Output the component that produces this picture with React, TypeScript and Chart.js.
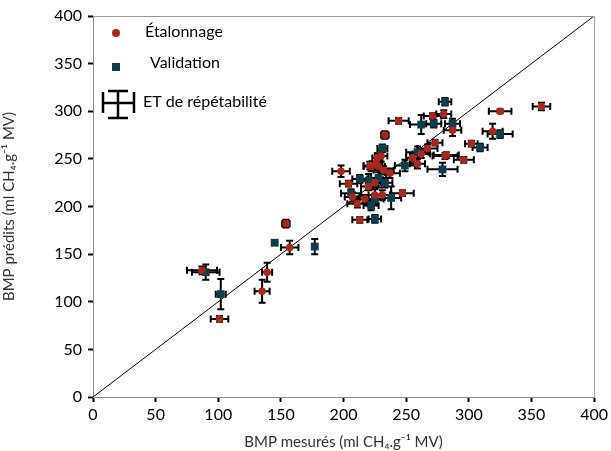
import React, { useEffect, useRef } from "react";
import { Chart, registerables } from "chart.js";

Chart.register(...registerables);

// Étalonnage (calibration)
const calX = [358, 325, 319, 302, 282, 296, 280, 271, 287, 244, 233, 273, 267, 255, 259, 262, 281, 237, 230, 227, 222, 228, 232, 198, 204, 220, 225, 207, 217, 225, 231, 247, 211, 213, 226, 221, 154, 157, 139, 135, 87, 101];
const calY = [305, 300, 279, 266, 254, 249, 297, 295, 280, 290, 275, 267, 261, 251, 245, 255, 253, 235, 253, 251, 242, 242, 238, 237, 224, 221, 225, 210, 208, 212, 212, 214, 203, 186, 245, 243, 182, 157, 131, 111, 133, 82];
const calXErr = [7, 9, 8, 5, 10, 8, 6, 7, 7, 8, 3, 6, 8, 5, 6, 7, 10, 8, 5, 4, 6, 5, 8, 7, 7, 6, 5, 6, 6, 5, 6, 9, 8, 6, 5, 5, 3, 7, 4, 6, 12, 7];
const calYErr = [4, 2, 8, 3, 3, 3, 4, 3, 6, 3, 4, 3, 4, 4, 5, 4, 3, 5, 6, 5, 5, 6, 4, 6, 3, 4, 5, 5, 4, 6, 5, 3, 4, 3, 6, 4, 4, 7, 10, 12, 4, 3];

// Validation
const valX = [281, 272, 262, 287, 325, 309, 279, 249, 259, 231, 228, 213, 220, 233, 206, 225, 238, 222, 225, 145, 177, 90, 102];
const valY = [310, 287, 286, 287, 276, 262, 239, 243, 257, 261, 230, 229, 227, 225, 214, 208, 209, 201, 187, 162, 158, 131, 108];
const valXErr = [5, 6, 9, 6, 10, 6, 12, 8, 9, 4, 6, 6, 7, 6, 8, 7, 8, 6, 5, 2, 2, 11, 4];
const valYErr = [4, 4, 10, 5, 4, 4, 7, 6, 6, 4, 10, 4, 7, 5, 4, 5, 12, 5, 4, 2, 8, 8, 16];

const axisTicks = [0, 50, 100, 150, 200, 250, 300, 350, 400];

const RED = "#a8281e";
const BLUE = "#0f3d4c";
const FONT = "Lato";

function build(xs: number[], ys: number[], xe: number[], ye: number[]) {
  return xs.map((x, i) => ({ x, y: ys[i], xe: xe[i], ye: ye[i] }));
}

const errorBarPlugin = {
  id: "errorBars",
  beforeDatasetsDraw(chart: any) {
    const { ctx, scales } = chart;
    const sx = scales.x;
    const sy = scales.y;
    ctx.save();
    ctx.strokeStyle = "#000";
    ctx.lineWidth = 2;
    [0, 1].forEach((di) => {
      const ds = chart.data.datasets[di];
      ds.data.forEach((d: any) => {
        const cx = sx.getPixelForValue(d.x);
        const cy = sy.getPixelForValue(d.y);
        const x1 = sx.getPixelForValue(d.x - d.xe);
        const x2 = sx.getPixelForValue(d.x + d.xe);
        const y1 = sy.getPixelForValue(d.y - d.ye);
        const y2 = sy.getPixelForValue(d.y + d.ye);
        const cap = 3.5;
        ctx.beginPath();
        ctx.moveTo(x1, cy); ctx.lineTo(x2, cy);
        ctx.moveTo(x1, cy - cap); ctx.lineTo(x1, cy + cap);
        ctx.moveTo(x2, cy - cap); ctx.lineTo(x2, cy + cap);
        ctx.moveTo(cx, y1); ctx.lineTo(cx, y2);
        ctx.moveTo(cx - cap, y1); ctx.lineTo(cx + cap, y1);
        ctx.moveTo(cx - cap, y2); ctx.lineTo(cx + cap, y2);
        ctx.stroke();
      });
    });
    ctx.restore();
  },
  afterDraw(chart: any) {
    const { ctx, chartArea } = chart;
    ctx.save();
    // frame top and right
    ctx.strokeStyle = "#9a9a9a";
    ctx.lineWidth = 1;
    ctx.beginPath();
    ctx.moveTo(chartArea.left, chartArea.top + 0.5);
    ctx.lineTo(chartArea.right + 0.5, chartArea.top + 0.5);
    ctx.lineTo(chartArea.right + 0.5, chartArea.bottom);
    ctx.stroke();

    // legend
    ctx.fillStyle = RED;
    ctx.beginPath();
    ctx.arc(116, 33, 4, 0, Math.PI * 2);
    ctx.fill();
    ctx.fillStyle = BLUE;
    ctx.fillRect(112, 63, 8, 8);

    ctx.strokeStyle = "#000";
    ctx.lineWidth = 2.5;
    ctx.beginPath();
    ctx.moveTo(103, 103); ctx.lineTo(134, 103);
    ctx.moveTo(103, 92); ctx.lineTo(103, 113);
    ctx.moveTo(134, 92); ctx.lineTo(134, 113);
    ctx.moveTo(118, 91); ctx.lineTo(118, 118);
    ctx.moveTo(108, 91); ctx.lineTo(128, 91);
    ctx.moveTo(108, 118); ctx.lineTo(128, 118);
    ctx.stroke();

    ctx.fillStyle = "#000";
    ctx.font = `16px ${FONT}`;
    ctx.textBaseline = "middle";
    ctx.textAlign = "left";
    ctx.fillText("Étalonnage", 145, 32);
    ctx.fillText("Validation", 150, 63);
    ctx.fillText("ET de répétabilité", 143, 102);
    ctx.restore();
  },
};

export default function App() {
  const ref = useRef<HTMLCanvasElement | null>(null);
  useEffect(() => {
    if (!ref.current) return;
    const chart = new Chart(ref.current, {
      type: "scatter",
      data: {
        datasets: [
          {
            label: "Étalonnage",
            data: build(calX, calY, calXErr, calYErr),
            backgroundColor: RED,
            borderColor: RED,
            pointStyle: "circle",
            pointRadius: 3.8,
            borderWidth: 0,
          },
          {
            label: "Validation",
            data: build(valX, valY, valXErr, valYErr),
            backgroundColor: BLUE,
            borderColor: BLUE,
            pointStyle: "rect",
            pointRadius: 5.5,
            borderWidth: 0,
          },
          {
            type: "line",
            label: "1:1",
            data: [{ x: 0, y: 0 }, { x: 400, y: 400 }],
            borderColor: "#000",
            borderWidth: 1,
            pointRadius: 0,
            fill: false,
          } as any,
        ],
      },
      options: {
        animation: false,
        responsive: true,
        maintainAspectRatio: false,
        layout: { padding: { left: 0, top: 16, right: 15, bottom: 0 } },
        plugins: { legend: { display: false }, tooltip: { enabled: false } },
        scales: {
          x: {
            type: "linear",
            min: 0,
            max: 400,
            afterBuildTicks: (s: any) => { s.ticks = axisTicks.map((v) => ({ value: v })); },
            afterFit: (s: any) => { s.height = 54; },
            border: { color: "#8a8a8a", width: 1 },
            grid: { drawOnChartArea: false, drawTicks: true, tickLength: 5, tickColor: "#000", tickWidth: 2 },
            ticks: { color: "#000", font: { family: FONT, size: 16 }, padding: 3, maxRotation: 0 },
            title: {
              display: true,
              text: "BMP mesurés (ml CH₄.g⁻¹ MV)",
              color: "#333",
              font: { family: FONT, size: 15 },
              padding: { top: 0, bottom: 0 },
            },
          },
          y: {
            type: "linear",
            min: 0,
            max: 400,
            afterBuildTicks: (s: any) => { s.ticks = axisTicks.map((v) => ({ value: v })); },
            afterFit: (s: any) => { s.width = 93; },
            border: { color: "#8a8a8a", width: 1 },
            grid: { drawOnChartArea: false, drawTicks: true, tickLength: 5, tickColor: "#000", tickWidth: 2 },
            ticks: { color: "#000", font: { family: FONT, size: 16 }, padding: 6 },
            title: {
              display: true,
              text: "BMP prédits (ml CH₄.g⁻¹ MV)",
              color: "#333",
              font: { family: FONT, size: 15 },
              padding: { top: 0, bottom: 10 },
            },
          },
        },
      },
      plugins: [errorBarPlugin],
    });
    return () => chart.destroy();
  }, []);
  return (
    <div style={{ position: "fixed", left: 0, top: 0, width: 611, height: 451, background: "#fff" }}>
      <canvas ref={ref} />
    </div>
  );
}
